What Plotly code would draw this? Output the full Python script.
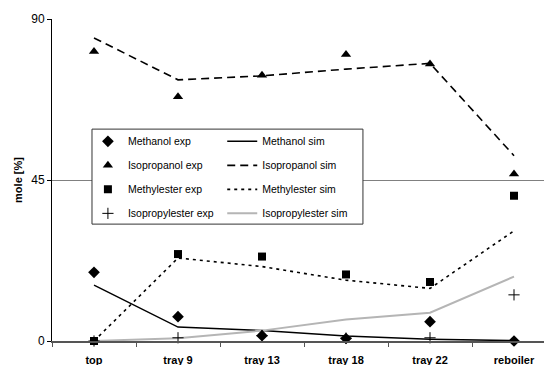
import plotly.graph_objects as go

categories = ["top", "tray 9", "tray 13", "tray 18", "tray 22", "reboiler"]

methanol_exp = [19.2, 6.8, 1.5, 0.7, 5.4, 0.0]
methanol_sim = [15.6, 3.9, 2.9, 1.4, 0.5, 0.1]
isopropanol_exp = [80.9, 68.3, 74.3, 80.1, 77.4, 46.7]
isopropanol_sim = [84.7, 73.0, 74.1, 76.0, 77.6, 51.8]
methylester_exp = [0.0, 24.3, 23.6, 18.6, 16.5, 40.6]
methylester_sim = [0.0, 23.2, 20.8, 17.0, 14.7, 30.8]
isopropylester_exp = [0.0, 0.9, 1.5, 0.8, 0.9, 12.9]
isopropylester_sim = [0.0, 0.8, 2.9, 6.0, 7.9, 18.0]

y_ticks = [0, 45, 90]

FONT = "Liberation Sans, Arial, sans-serif"

fig = go.Figure()

# simulated lines (drawn first so markers sit on top)
sims = [
    ("Methanol sim", methanol_sim, dict(color="black", width=1.5, dash="solid")),
    ("Isopropanol sim", isopropanol_sim, dict(color="black", width=1.6, dash="8px,5px")),
    ("Methylester sim", methylester_sim, dict(color="black", width=1.6, dash="3px,4px")),
    ("Isopropylester sim", isopropylester_sim, dict(color="#b5b5b5", width=2, dash="solid")),
]
for i, (name, vals, line) in enumerate(sims):
    fig.add_trace(go.Scatter(
        x=categories, y=vals, name=name, mode="lines", line=line,
        legend="legend2", legendgroup=f"s{i}", cliponaxis=False,
    ))

exps = [
    ("Methanol exp", methanol_exp, dict(symbol="diamond", size=9, color="black")),
    ("Isopropanol exp", isopropanol_exp, dict(symbol="triangle-up", size=9, color="black")),
    ("Methylester exp", methylester_exp, dict(symbol="square", size=8, color="black")),
    ("Isopropylester exp", isopropylester_exp,
     dict(symbol="cross-thin", size=8, color="black", line=dict(color="black", width=1))),
]
for i, (name, vals, marker) in enumerate(exps):
    fig.add_trace(go.Scatter(
        x=categories, y=vals, name=name, mode="markers", marker=marker,
        legend="legend", legendgroup=f"e{i}", cliponaxis=False,
    ))

# legend box
fig.add_shape(type="rect", xref="paper", yref="paper",
              x0=0.0813, x1=0.632, y0=0.363, y1=0.658,
              line=dict(color="#333333", width=1), fillcolor="white", layer="above")

legend_common = dict(
    yanchor="top", xanchor="left", bgcolor="rgba(0,0,0,0)", borderwidth=0,
    font=dict(family=FONT, size=10.5, color="black"),
    tracegroupgap=5, itemwidth=30, orientation="v", traceorder="grouped",
)

fig.update_layout(
    width=544, height=365,
    margin=dict(l=52, r=0, t=19, b=24),
    paper_bgcolor="white", plot_bgcolor="white",
    font=dict(family=FONT, color="black"),
    showlegend=True,
    legend=dict(x=0.073, y=0.665, **legend_common),
    legend2=dict(x=0.346, y=0.665, **legend_common),
    xaxis=dict(
        type="category", categoryorder="array", categoryarray=categories,
        range=[-0.5, 5.357], tickson="boundaries",
        ticks="outside", ticklen=4, tickcolor="#555555", tickwidth=1,
        showline=True, linecolor="#555555", linewidth=2,
        showgrid=False, zeroline=False, ticklabelstandoff=8,
        tickfont=dict(family=FONT, size=11, color="black", weight="bold"),
    ),
    yaxis=dict(
        range=[0, 90], tickvals=y_ticks, ticktext=[str(v) for v in y_ticks],
        ticks="outside", ticklen=4, tickcolor="black",
        showline=True, linecolor="black", linewidth=1,
        showgrid=True, gridcolor="#808080", gridwidth=1, zeroline=False,
        tickfont=dict(family=FONT, size=12, color="black"),
        title=dict(text="mole [%]", standoff=6,
                   font=dict(family=FONT, size=11, color="black", weight="bold")),
    ),
)

fig.write_html("out.html")
